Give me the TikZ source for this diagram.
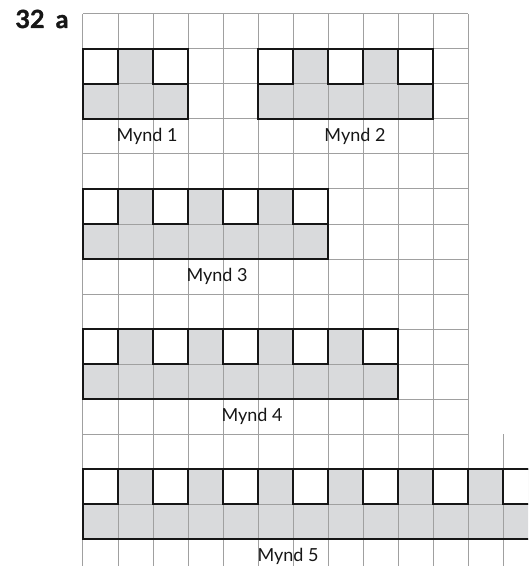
\documentclass[tikz,border=0pt]{standalone}
\usepackage{fontspec}
\setmainfont{Lato}
\usepackage{tikz}
\definecolor{cellgray}{RGB}{217,218,220}
\definecolor{gridgray}{RGB}{160,160,160}
\definecolor{ink}{RGB}{22,22,22}
\tikzset{
  gridline/.style={draw=gridgray, line width=1pt},
  shade/.style={fill=cellgray},
  hole/.style={fill=white},
  outline/.style={draw=ink, line width=1.4pt},
  lbl/.style={anchor=base, inner sep=0pt, text=ink, font=\fontsize{18}{18}\selectfont},
  title/.style={anchor=base, inner sep=0pt, text=ink, font=\fontsize{25}{25}\selectfont\bfseries\addfontfeature{FakeBold=1.5}}
}

\begin{document}
\begin{tikzpicture}[x=35pt, y=-35pt]
  \useasboundingbox (-2.3714,-0.4) rectangle (12.7143,15.7714);
  \clip (-2.3714,-0.4) rectangle (12.7143,15.7714);
  \foreach \col/\row/\len in {0/1/3, 5/1/5, 0/5/7, 0/9/9, 0/13/13} {
    \fill[shade] (\col,\row) rectangle ++(\len,2);
    \pgfmathtruncatemacro{\last}{\len-1}
    \foreach \k in {0,2,...,\last} \fill[hole] (\col+\k,\row) rectangle ++(1,1);
  }
  \foreach \i in {0,...,11} \draw[gridline] (\i,0) -- (\i,12);
  \foreach \j in {0,...,12} \draw[gridline] (0,\j) -- (11,\j);
  \foreach \i in {0,...,12} \draw[gridline] (\i,12) -- (\i,16);
  \foreach \j in {13,14,15} \draw[gridline] (0,\j) -- (13,\j);
  \foreach \col/\row/\len in {0/1/3, 5/1/5, 0/5/7, 0/9/9, 0/13/13} {
    \draw[outline] (\col,\row) rectangle ++(\len,2);
    \pgfmathtruncatemacro{\last}{\len-1}
    \foreach \k in {0,2,...,\last} \draw[outline] (\col+\k,\row) rectangle ++(1,1);
  }
  \node[title] (num) at (-1.171,0.4) {32\hspace{0.45em}a};
  \node[lbl] (mynd1) at (1.83,3.63) {Mynd 1};
  \node[lbl] (mynd2) at (7.77,3.63) {Mynd 2};
  \node[lbl] (mynd3) at (3.83,7.63) {Mynd 3};
  \node[lbl] (mynd4) at (4.83,11.63) {Mynd 4};
  \node[lbl] (mynd5) at (5.86,15.63) {Mynd 5};
\end{tikzpicture}
\end{document}
